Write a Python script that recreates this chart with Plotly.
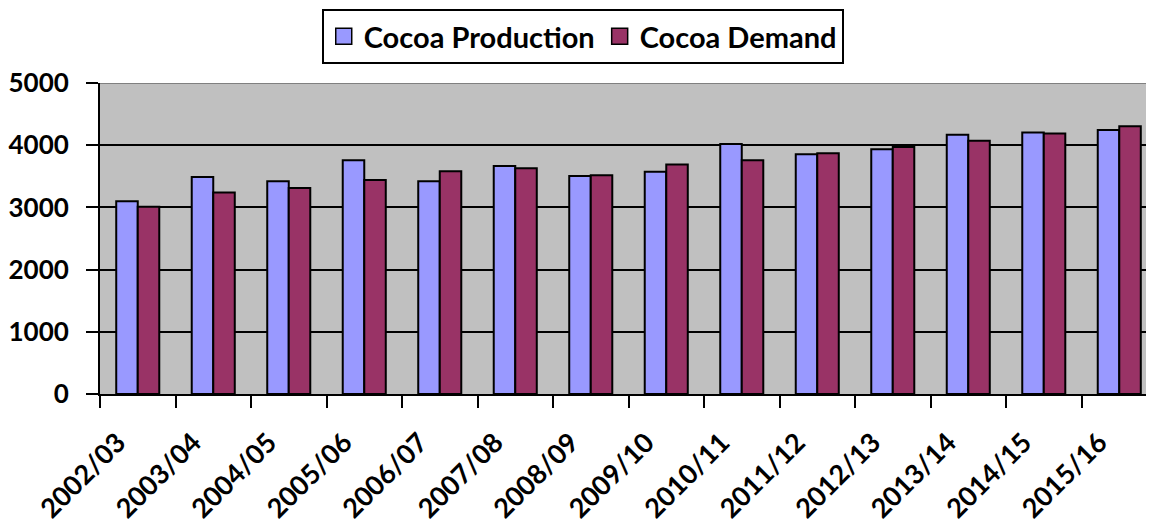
import plotly.graph_objects as go

seasons = ["2002/03", "2003/04", "2004/05", "2005/06", "2006/07", "2007/08", "2008/09",
           "2009/10", "2010/11", "2011/12", "2012/13", "2013/14", "2014/15", "2015/16"]
production = [3100, 3490, 3420, 3760, 3420, 3665, 3505, 3575, 4020, 3855, 3935, 4170, 4205, 4245]
demand = [3010, 3240, 3310, 3440, 3580, 3630, 3515, 3690, 3760, 3870, 3970, 4070, 4190, 4305]

PROD_COLOR = "#9999FF"
DEM_COLOR = "#993366"
FONT = "Lato"

fig = go.Figure()
fig.add_trace(go.Bar(x=seasons, y=production, name="Cocoa Production",
                     marker=dict(color=PROD_COLOR, line=dict(color="black", width=2)),
                     showlegend=False))
fig.add_trace(go.Bar(x=seasons, y=demand, name="Cocoa Demand",
                     marker=dict(color=DEM_COLOR, line=dict(color="black", width=2)),
                     showlegend=False))
# legend entries
for nm, col in [("Cocoa Production", PROD_COLOR), ("Cocoa Demand", DEM_COLOR)]:
    fig.add_trace(go.Scatter(x=[None], y=[None], mode="markers", name=nm,
                             marker=dict(symbol="square", size=16, color=col,
                                         line=dict(color="black", width=1.5))))

# page body adds an 8px margin, so the figure is sized/placed to compensate
fig.update_layout(
    width=1146, height=519,
    margin=dict(l=92, r=0, t=75, b=133, autoexpand=False),
    paper_bgcolor="white",
    plot_bgcolor="#C0C0C0",
    barmode="group",
    bargap=0.43,
    bargroupgap=0,
    font=dict(family=FONT, size=26, color="black", weight="bold"),
    legend=dict(orientation="h", x=0.458, xanchor="center", y=1.238, yanchor="top",
                bgcolor="white", bordercolor="black", borderwidth=2,
                font=dict(family=FONT, size=29, color="black", weight="bold"),
                itemwidth=30, tracegroupgap=0),
    shapes=[dict(type="line", xref="paper", yref="y", x0=0, x1=1, y0=5000, y1=5000,
                 line=dict(color="#808080", width=2), layer="between")],
)
fig.update_xaxes(
    type="category", range=[-0.5, 13.46], automargin=False,
    showline=True, linecolor="black", linewidth=2,
    ticks="outside", ticklen=12, tickwidth=2, tickcolor="black",
    tickson="boundaries", tickangle=-45,
    ticklabelshift=-20, ticklabelstandoff=20,
    tickfont=dict(family=FONT, size=27, color="black", weight="bold"),
    showgrid=False,
)
fig.update_yaxes(
    range=[0, 5000], dtick=1000, automargin=False,
    showline=True, linecolor="black", linewidth=2,
    ticks="outside", ticklen=12, tickwidth=2, tickcolor="black",
    showgrid=True, gridcolor="black", gridwidth=2,
    zeroline=False,
    ticklabelstandoff=12,
    tickfont=dict(family=FONT, size=26, color="black", weight="bold"),
)

fig.write_html("out.html")
